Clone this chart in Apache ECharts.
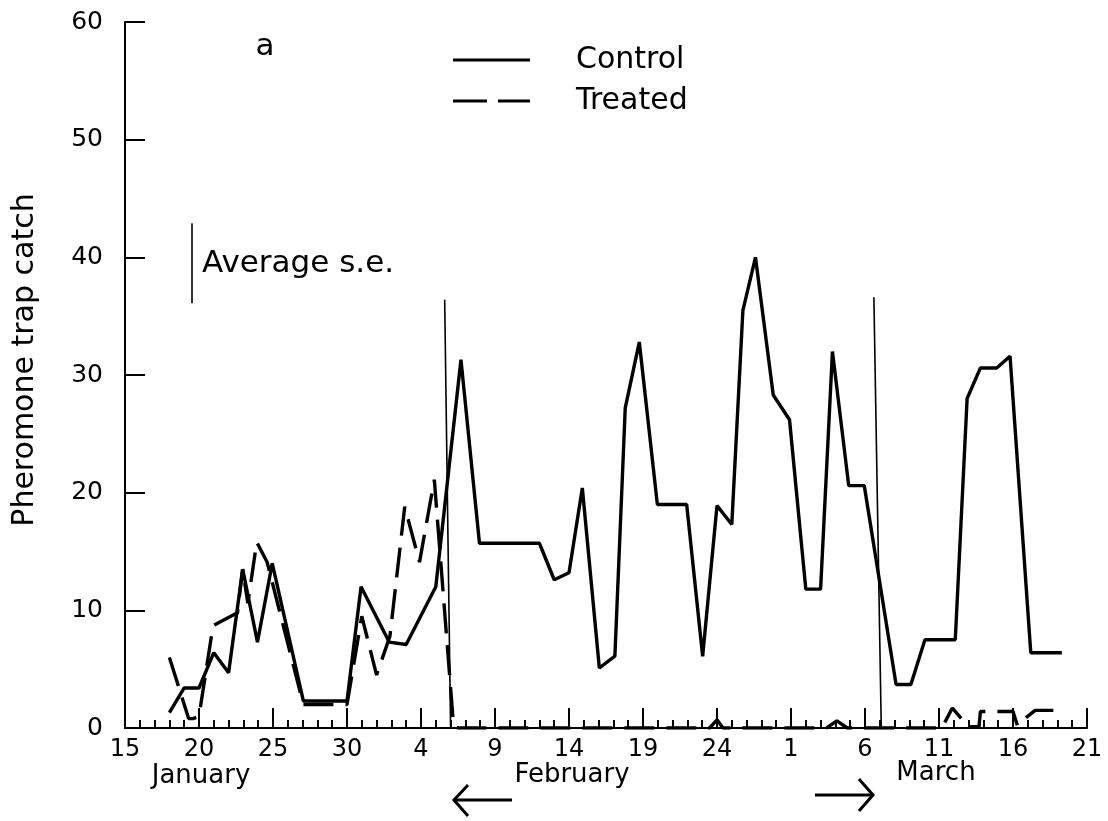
<!DOCTYPE html>
<html>
<head>
<meta charset="utf-8">
<script src="https://cdn.jsdelivr.net/npm/echarts@6/dist/echarts.min.js"></script>
<style>
  html, body { margin: 0; padding: 0; background: #fff; }
  #chart { width: 1108px; height: 821px; }
</style>
</head>
<body>
<div id="chart"></div>
<script>
// x = days since 15 January (Feb has 28 days)
const xTickLabels = ['15','20','25','30','4','9','14','19','24','1','6','11','16','21'];
const monthLabels = ['January', 'February', 'March'];
const seriesNames = ['Control', 'Treated'];

const controlData = [
  [3,1.3],[4,3.4],[5,3.4],[6,6.4],[7,4.7],[7.95,13.5],[8.95,7.3],[9.95,14.0],
  [12.05,2.3],[15,2.3],[15.95,12.0],[17.85,7.3],[19.0,7.1],[21.0,12.0],
  [22.7,31.3],[23.95,15.7],[28.0,15.7],[29.0,12.6],[30.0,13.2],[30.9,20.4],
  [32.05,5.1],[33.1,6.1],[33.8,27.2],[34.75,32.8],[35.97,19.0],[37.95,19.0],
  [39.03,6.1],[40.0,18.9],[41.0,17.3],[41.75,35.5],[42.6,40.0],[43.8,28.3],
  [44.9,26.2],[46.0,11.8],[47.0,11.8],[47.8,32.0],[48.9,20.6],[49.95,20.6],
  [52.1,3.7],[53.1,3.7],[54.05,7.5],[56.1,7.5],[56.9,28.0],[57.8,30.6],
  [58.9,30.6],[59.8,31.6],[61.2,6.4],[63.3,6.4]
];

const treatedData = [
  [3,6.0],[4.3,0.8],[4.6,0.8],[5.0,1.0],[5.95,8.7],[7.6,9.8],[7.95,13.5],
  [8.3,10.6],[8.9,15.8],[9.6,14.1],[12.05,2.0],[15.0,2.0],[16.0,9.5],
  [17.0,4.5],[17.9,7.8],[18.9,18.8],[19.9,14.1],[20.9,21.1],[22.2,0.2],
  [22.5,0],[39.5,0],[40.0,0.7],[40.4,0],[47.4,0],[48.1,0.6],[48.8,0],
  [55.2,0],[55.9,1.7],[57.0,0.1],[57.7,0.1],[57.8,1.4],[60.0,1.4],[60.3,0.2],
  [60.9,0.9],[61.5,1.5],[63.0,1.5]
];

// vertical reference lines: [x top, y top, x bottom, y bottom]
const periodLines = [
  [21.6, 36.4, 22.0, 0],
  [50.6, 36.6, 51.1, 0]
];
// average standard error bar [x, low, high]
const seBar = [4.5, 36.1, 42.9];

const chart = echarts.init(document.getElementById('chart'), null, { renderer: 'canvas' });
const FONT = 'DejaVu Sans';

const markLines = periodLines.map(l => [{ coord: [l[0], l[1]] }, { coord: [l[2], l[3]] }]);
markLines.push([{ coord: [seBar[0], seBar[2]] }, { coord: [seBar[0], seBar[1]] }]);

const option = {
  backgroundColor: '#fff',
  animation: false,
  grid: { left: 125, right: 21, top: 22, bottom: 93, containLabel: false, outerBoundsMode: 'none' },
  xAxis: {
    type: 'value', min: 0, max: 65, interval: 5,
    axisLine: { show: true, lineStyle: { color: '#000', width: 2 } },
    axisTick: { show: true, inside: true, length: 20, lineStyle: { color: '#000', width: 2 } },
    minorTick: { show: true, splitNumber: 5, length: 8, lineStyle: { color: '#000', width: 2 } },
    splitLine: { show: false },
    axisLabel: {
      fontFamily: FONT, fontSize: 24, color: '#000', margin: 10,
      formatter: v => xTickLabels[Math.round(v / 5)]
    }
  },
  yAxis: {
    type: 'value', min: 0, max: 60, interval: 10,
    axisLine: { show: true, lineStyle: { color: '#000', width: 2 } },
    axisTick: { show: true, inside: true, length: 20, lineStyle: { color: '#000', width: 2 } },
    splitLine: { show: false },
    axisLabel: { fontFamily: FONT, fontSize: 25, color: '#000', margin: 22 }
  },
  series: [
    {
      name: seriesNames[0], type: 'line', data: controlData,
      symbol: 'none', color: '#000',
      lineStyle: { color: '#000', width: 3.4, type: 'solid' },
      markLine: {
        silent: true, symbol: 'none', label: { show: false },
        lineStyle: { color: '#000', width: 1.6, type: 'solid' },
        data: markLines
      }
    },
    {
      name: seriesNames[1], type: 'line', data: treatedData,
      symbol: 'none', color: '#000',
      lineStyle: { color: '#000', width: 3.4, type: [30, 12] }
    }
  ],
  graphic: [
    { type: 'text', x: 25, y: 360, rotation: Math.PI / 2,
      style: { text: 'Pheromone trap catch', fontFamily: FONT, fontSize: 30, fill: '#000', align: 'center', verticalAlign: 'middle' } },
    { type: 'text', x: 265, y: 47, style: { text: 'a', fontFamily: FONT, fontSize: 31, fill: '#000', align: 'center', verticalAlign: 'middle' } },
    { type: 'text', x: 202, y: 264, style: { text: 'Average s.e.', fontFamily: FONT, fontSize: 31, fill: '#000', align: 'left', verticalAlign: 'middle' } },
    // legend
    { type: 'line', shape: { x1: 453, y1: 60, x2: 530, y2: 60 }, style: { stroke: '#000', lineWidth: 3 } },
    { type: 'line', shape: { x1: 453, y1: 101, x2: 530, y2: 101 }, style: { stroke: '#000', lineWidth: 3, lineDash: [34, 11] } },
    { type: 'text', x: 576, y: 60, style: { text: seriesNames[0], fontFamily: FONT, fontSize: 30, fill: '#000', align: 'left', verticalAlign: 'middle' } },
    { type: 'text', x: 576, y: 101, style: { text: seriesNames[1], fontFamily: FONT, fontSize: 30, fill: '#000', align: 'left', verticalAlign: 'middle' } },
    // month labels
    { type: 'text', x: 201, y: 776, style: { text: monthLabels[0], fontFamily: FONT, fontSize: 26, fill: '#000', align: 'center', verticalAlign: 'middle' } },
    { type: 'text', x: 572, y: 775, style: { text: monthLabels[1], fontFamily: FONT, fontSize: 26, fill: '#000', align: 'center', verticalAlign: 'middle' } },
    { type: 'text', x: 936, y: 773, style: { text: monthLabels[2], fontFamily: FONT, fontSize: 26, fill: '#000', align: 'center', verticalAlign: 'middle' } },
    // arrows
    { type: 'polyline', shape: { points: [[512, 800], [454, 800]] }, style: { stroke: '#000', lineWidth: 3 } },
    { type: 'polyline', shape: { points: [[468, 785], [454, 800], [468, 816]] }, style: { stroke: '#000', lineWidth: 3, fill: null } },
    { type: 'polyline', shape: { points: [[815, 795], [873, 795]] }, style: { stroke: '#000', lineWidth: 3 } },
    { type: 'polyline', shape: { points: [[859, 779], [873, 795], [859, 811]] }, style: { stroke: '#000', lineWidth: 3, fill: null } }
  ]
};
chart.setOption(option);
</script>
</body>
</html>
